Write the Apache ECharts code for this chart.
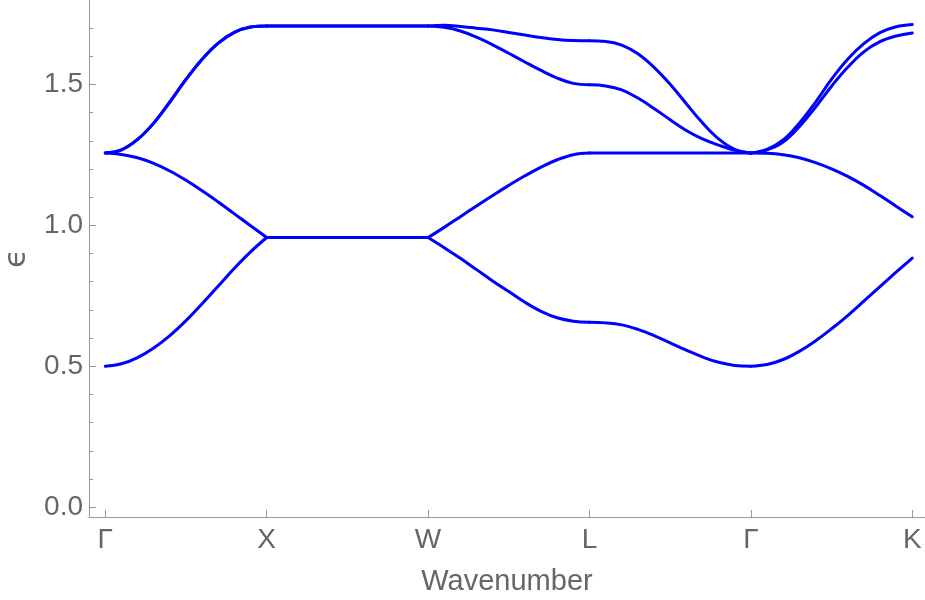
<!DOCTYPE html>
<html>
<head>
<meta charset="utf-8">
<script src="https://cdn.jsdelivr.net/npm/echarts@6/dist/echarts.min.js"></script>
<style>
html,body{margin:0;padding:0;background:#fff;}
#chart{width:925px;height:600px;}
</style>
</head>
<body>
<div id="chart"></div>
<script>
// High-symmetry path labels (one per segment boundary)
const tickLabels = ['Γ', 'X', 'W', 'L', 'Γ', 'K'];
// local sample positions inside each path segment
const kGrid = [0, 0.1, 0.2, 0.3, 0.4, 0.5, 0.6, 0.7, 0.8, 0.9, 1.0];
// y-axis tick values
const yMajorTicks = [0, 0.5, 1.0, 1.5];
const yMinorTicks = [0.1, 0.2, 0.3, 0.4, 0.6, 0.7, 0.8, 0.9, 1.1, 1.2, 1.3, 1.4, 1.6, 1.7];

// band energies, one row per segment: Γ-X, X-W, W-L, L-Γ, Γ-K
const band1 = [
  [0.500, 0.509, 0.531, 0.565, 0.609, 0.662, 0.722, 0.785, 0.848, 0.906, 0.957],
  [0.957, 0.957, 0.957, 0.957, 0.957, 0.957, 0.957, 0.957, 0.957, 0.957, 0.957],
  [0.957, 0.921, 0.883, 0.843, 0.803, 0.765, 0.727, 0.695, 0.672, 0.660, 0.656],
  [0.656, 0.654, 0.647, 0.631, 0.609, 0.583, 0.557, 0.533, 0.514, 0.503, 0.500],
  [0.500, 0.506, 0.524, 0.553, 0.590, 0.633, 0.680, 0.731, 0.783, 0.834, 0.884]
];
const band2 = [
  [1.257, 1.252, 1.240, 1.220, 1.193, 1.160, 1.123, 1.083, 1.041, 0.999, 0.957],
  [0.957, 0.957, 0.957, 0.957, 0.957, 0.957, 0.957, 0.957, 0.957, 0.957, 0.957],
  [0.957, 0.993, 1.031, 1.069, 1.106, 1.142, 1.176, 1.207, 1.233, 1.251, 1.257],
  [1.257, 1.257, 1.257, 1.257, 1.257, 1.257, 1.257, 1.257, 1.257, 1.257, 1.257],
  [1.257, 1.256, 1.251, 1.240, 1.223, 1.201, 1.174, 1.142, 1.106, 1.068, 1.031]
];
const band3 = [
  [1.257, 1.268, 1.305, 1.363, 1.438, 1.518, 1.590, 1.647, 1.685, 1.704, 1.708],
  [1.708, 1.708, 1.708, 1.708, 1.708, 1.708, 1.708, 1.708, 1.708, 1.708, 1.708],
  [1.708, 1.703, 1.690, 1.668, 1.641, 1.611, 1.580, 1.550, 1.523, 1.504, 1.499],
  [1.499, 1.495, 1.481, 1.452, 1.415, 1.375, 1.337, 1.307, 1.285, 1.267, 1.257],
  [1.257, 1.268, 1.296, 1.350, 1.419, 1.494, 1.561, 1.616, 1.652, 1.672, 1.683]
];
const band4 = [
  [1.257, 1.268, 1.305, 1.363, 1.438, 1.518, 1.590, 1.647, 1.685, 1.704, 1.708],
  [1.708, 1.708, 1.708, 1.708, 1.708, 1.708, 1.708, 1.708, 1.708, 1.708, 1.708],
  [1.708, 1.710, 1.706, 1.700, 1.694, 1.685, 1.676, 1.667, 1.660, 1.656, 1.655],
  [1.655, 1.653, 1.640, 1.609, 1.561, 1.501, 1.432, 1.364, 1.307, 1.270, 1.257],
  [1.257, 1.270, 1.303, 1.363, 1.437, 1.519, 1.590, 1.645, 1.684, 1.705, 1.713]
];

const bands = [band1, band2, band3, band4];
const FONT = "'Liberation Sans', 'DejaVu Sans', Arial, sans-serif";
const AXIS_COLOR = '#999999';
const TEXT_COLOR = '#666666';

const series = [];
bands.forEach(function (band) {
  band.forEach(function (seg, s) {
    series.push({
      type: 'line',
      xAxisIndex: 0,
      yAxisIndex: 0,
      data: kGrid.map(function (t, i) { return [s + t, seg[i]]; }),
      smooth: 0.4,
      showSymbol: false,
      symbol: 'none',
      silent: true,
      lineStyle: { color: '#0000ff', width: 3, cap: 'round', join: 'round' }
    });
  });
});

const chart = echarts.init(document.getElementById('chart'), null, { renderer: 'canvas' });
chart.setOption({
  animation: false,
  backgroundColor: '#ffffff',
  textStyle: { fontFamily: FONT },
  grid: { left: 89, right: 0, top: 0, bottom: 83, containLabel: false, outerBoundsMode: 'none' },
  xAxis: [{
    type: 'value',
    min: -0.101,
    max: 5.079,
    name: 'Wavenumber',
    nameLocation: 'middle',
    nameGap: 50,
    nameTextStyle: { fontSize: 29, color: TEXT_COLOR, fontFamily: FONT },
    axisLine: { show: true, onZero: false, lineStyle: { color: AXIS_COLOR, width: 1 } },
    axisTick: { show: true, inside: true, length: 7, customValues: [0, 1, 2, 3, 4, 5], lineStyle: { color: AXIS_COLOR, width: 1 } },
    axisLabel: {
      show: true, margin: 9, fontSize: 28, color: TEXT_COLOR, fontFamily: FONT,
      customValues: [0, 1, 2, 3, 4, 5],
      formatter: function (v) { return tickLabels[Math.round(v)]; }
    },
    splitLine: { show: false }
  }],
  yAxis: [{
    type: 'value',
    min: -0.035,
    max: 1.8,
    name: 'ϵ',
    nameLocation: 'middle',
    nameGap: 57,
    nameTextStyle: { fontSize: 31, color: TEXT_COLOR, fontFamily: "'DejaVu Sans', sans-serif" },
    axisLine: { show: true, onZero: false, lineStyle: { color: AXIS_COLOR, width: 1 } },
    axisTick: { show: true, inside: true, length: 7, customValues: yMajorTicks, lineStyle: { color: AXIS_COLOR, width: 1 } },
    axisLabel: {
      show: true, margin: 6, fontSize: 28, color: TEXT_COLOR, fontFamily: FONT,
      customValues: yMajorTicks,
      formatter: function (v) { return v.toFixed(1); }
    },
    splitLine: { show: false }
  }, {
    type: 'value',
    position: 'left',
    min: -0.035,
    max: 1.8,
    axisLine: { show: false, onZero: false },
    axisTick: { show: true, inside: true, length: 4, customValues: yMinorTicks, lineStyle: { color: AXIS_COLOR, width: 1 } },
    axisLabel: { show: false },
    splitLine: { show: false }
  }],
  series: series
});
</script>
</body>
</html>
